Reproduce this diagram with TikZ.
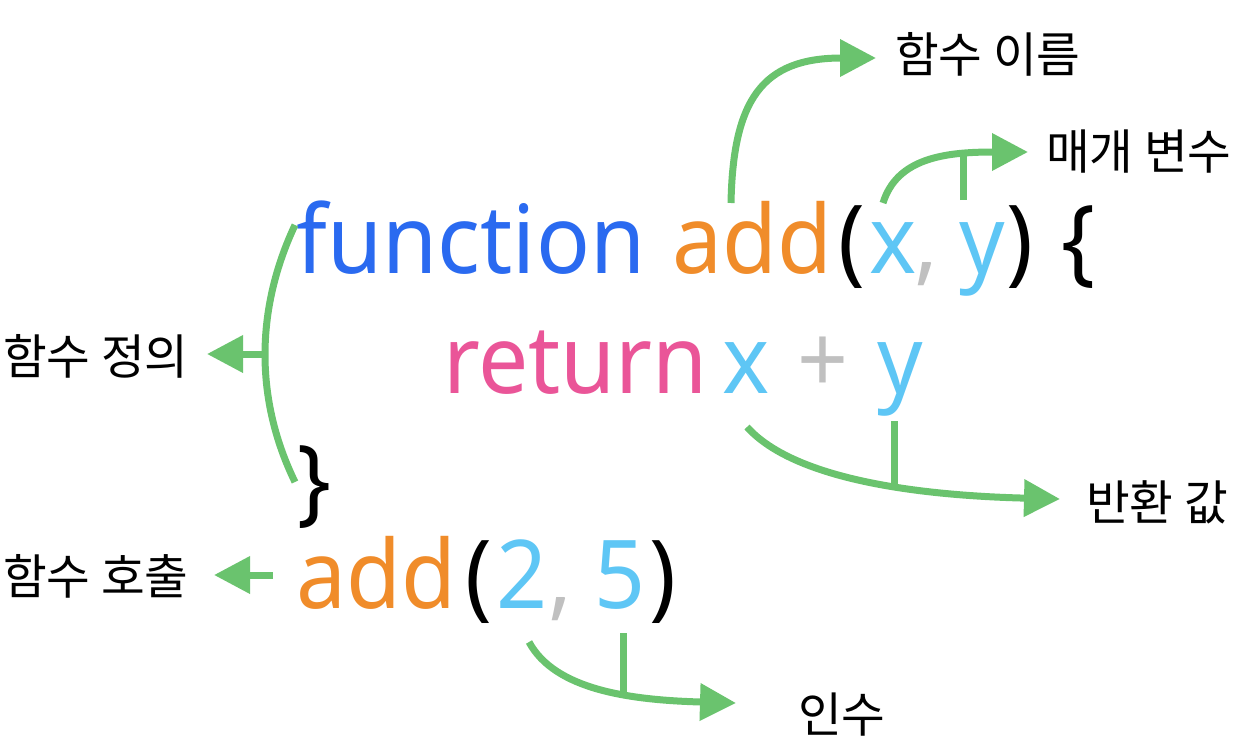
\documentclass[tikz,border=0pt]{standalone}
\usepackage{fontspec}
\setmainfont{Noto Sans}
\newfontfamily\codefont[FakeStretch=0.94]{Noto Sans}
\newfontfamily\krfont[FakeStretch=0.99]{Noto Sans CJK KR}
\usetikzlibrary{arrows.meta}
\definecolor{cgreen}{RGB}{106,195,110}
\definecolor{cblue}{RGB}{42,106,240}
\definecolor{corange}{RGB}{240,140,42}
\definecolor{clight}{RGB}{94,198,245}
\definecolor{cpink}{RGB}{234,85,152}
\definecolor{cgray}{RGB}{192,192,192}
\tikzset{
  codetok/.style={inner sep=0pt, anchor=base, font=\codefont\fontsize{95}{95}\selectfont},
  lbl/.style={inner sep=0pt, anchor=base west, font=\krfont\fontsize{48}{48}\selectfont},
  conn/.style={draw=cgreen, line width=7pt},
  connarrow/.style={conn, -{Triangle[length=36pt,width=36pt]}},
}
\begin{document}
\begin{tikzpicture}[x=1pt,y=-1pt]
\useasboundingbox (0,0) rectangle (1239,753);
% line 1
\node[codetok, text=cblue]   (fn)   at (471,273)   {function};
\node[codetok, text=corange] (add1) at (752.5,273) {add};
\node[codetok]               (lp1)  at (852,273)   {(};
\node[codetok, text=clight]  (x1)   at (893.5,273) {x};
\node[codetok, text=cgray]   (cm1)  at (926,273)   {,};
\node[codetok, text=clight]  (y1)   at (982,273)   {y};
\node[codetok]               (rp1)  at (1019.5,273){)};
\node[codetok]               (lb)   at (1078.5,273){\{};
% line 2
\node[codetok, text=cpink]   (ret)  at (575.5,393) {return};
\node[codetok, text=clight]  (x2)   at (746.5,393) {x};
\node[codetok, text=cgray]   (plus) at (823,393)   {+};
\node[codetok, text=clight]  (y2)   at (900,393)   {y};
% line 3
\node[codetok]               (rb)   at (314,513)   {\}};
% line 4
\node[codetok, text=corange] (add2) at (376.5,608) {add};
\node[codetok]               (lp2)  at (479,608)   {(};
\node[codetok, text=clight]  (two)  at (522.5,608) {2};
\node[codetok, text=cgray]   (cm2)  at (560,608)   {,};
\node[codetok, text=clight]  (five) at (620,608)   {5};
\node[codetok]               (rp2)  at (662.5,608) {)};
% labels
\node[lbl] (lname) at (895,72)  {함수 이름};
\node[lbl] (lparam) at (1046,169) {매개 변수};
\node[lbl] (ldef) at (3,374) {함수 정의};
\node[lbl] (lret) at (1086,520) {반환 값};
\node[lbl] (lcall) at (3,594) {함수 호출};
\node[lbl] (larg) at (798,732) {인수};
% connector points
\coordinate (nameS) at (731,203);
\coordinate (nameT) at (876,58);
\coordinate (parS) at (883,203);
\coordinate (parT) at (1028,152);
\coordinate (parStubB) at (963,200);
\coordinate (parStubT) at (963,152);
\coordinate (defS) at (295,225);
\coordinate (defE) at (295,482);
\coordinate (defM) at (264,354);
\coordinate (defT) at (207,354);
\coordinate (callS) at (273,575);
\coordinate (callT) at (214,575);
\coordinate (retS) at (747,427);
\coordinate (retT) at (1060,499);
\coordinate (retStubT) at (894,421);
\coordinate (retStubB) at (894,484);
\coordinate (argS) at (529,642);
\coordinate (argT) at (736,703);
\coordinate (argStubT) at (623,633);
\coordinate (argStubB) at (623,692);
% connectors
\draw[connarrow] (nameS) .. controls (733,100) and (762,58) .. (nameT);
\draw[connarrow] (parS) .. controls (897,158) and (945,152) .. (parT);
\draw[conn] (parStubB) -- (parStubT);
\draw[conn] (defS) .. controls (255,310) and (255,400) .. (defE);
\draw[connarrow] (defM) -- (defT);
\draw[connarrow] (callS) -- (callT);
\draw[connarrow] (retS) .. controls (790,475) and (900,495) .. (retT);
\draw[conn] (retStubT) -- (retStubB);
\draw[connarrow] (argS) .. controls (555,690) and (630,700) .. (argT);
\draw[conn] (argStubT) -- (argStubB);
\end{tikzpicture}
\end{document}
